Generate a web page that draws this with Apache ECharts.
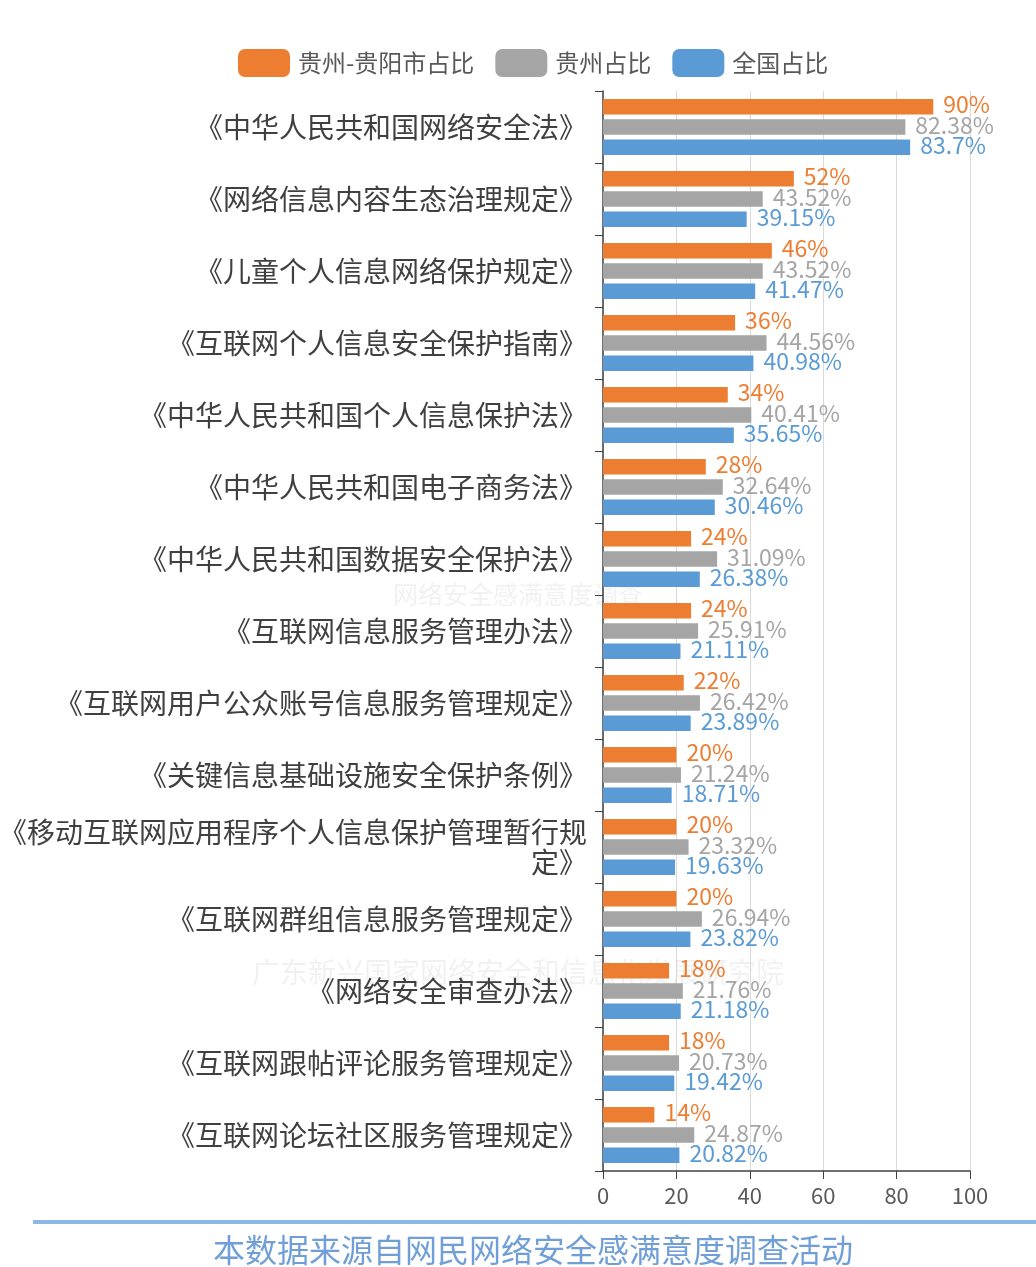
<!DOCTYPE html>
<html><head><meta charset="utf-8">
<script src="https://cdn.jsdelivr.net/npm/echarts@6/dist/echarts.min.js"></script>
<style>html,body{margin:0;padding:0;background:#fff}#c{width:1036px;height:1267px}</style>
</head><body><div id="c"></div>
<script>
const categories = ['《中华人民共和国网络安全法》','《网络信息内容生态治理规定》','《儿童个人信息网络保护规定》','《互联网个人信息安全保护指南》','《中华人民共和国个人信息保护法》','《中华人民共和国电子商务法》','《中华人民共和国数据安全保护法》','《互联网信息服务管理办法》','《互联网用户公众账号信息服务管理规定》','《关键信息基础设施安全保护条例》','《移动互联网应用程序个人信息保护管理暂行规定》','《互联网群组信息服务管理规定》','《网络安全审查办法》','《互联网跟帖评论服务管理规定》','《互联网论坛社区服务管理规定》'];
const guiyang = [90,52,46,36,34,28,24,24,22,20,20,20,18,18,14];
const guizhou = [82.38,43.52,43.52,44.56,40.41,32.64,31.09,25.91,26.42,21.24,23.32,26.94,21.76,20.73,24.87];
const national = [83.7,39.15,41.47,40.98,35.65,30.46,26.38,21.11,23.89,18.71,19.63,23.82,21.18,19.42,20.82];
const seriesNames = ['贵州-贵阳市占比','贵州占比','全国占比'];
const colors = ['#ED7D31','#A5A5A5','#5B9BD5'];
const font = '"Noto Sans CJK SC", "Noto Sans", sans-serif';

const chart = echarts.init(document.getElementById('c'));
const mk = (name, data, color) => ({
  name, type:'bar', data,
  barCategoryGap:'22%', barGap:'30%',
  itemStyle:{color},
  label:{show:true, position:'right', distance:10, offset:[0,-2], color, fontSize:23, fontFamily:font, formatter:'{c}%'}
});
chart.setOption({
  animation:false,
  color: colors,
  textStyle:{fontFamily:font},
  legend:{
    top:44, left:233, itemWidth:52, itemHeight:28, itemGap:21,
    textStyle:{fontSize:24, color:'#595959', fontFamily:font, padding:[0,0,0,3]},
    data: seriesNames.map((n,i)=>({name:n, itemStyle:{color:colors[i], borderRadius:8}}))
  },
  grid:{left:603, right:66, top:91, bottom:96, containLabel:false, outerBoundsMode:'none'},
  xAxis:{
    type:'value', min:0, max:100, interval:20,
    axisLine:{show:true, lineStyle:{color:'#404040', width:1.5}},
    axisTick:{show:true, length:8, lineStyle:{color:'#404040'}},
    axisLabel:{fontSize:22, color:'#595959', margin:14, fontFamily:font},
    splitLine:{show:true, lineStyle:{color:'#d9d9d9', width:1}}
  },
  yAxis:{
    type:'category', data:categories, inverse:true,
    axisLine:{show:true, lineStyle:{color:'#404040', width:1.5}},
    axisTick:{show:true, length:8, lineStyle:{color:'#404040'}},
    axisLabel:{fontSize:28, color:'#404040', margin:16, width:592, overflow:'break', lineHeight:30, fontFamily:font}
  },
  graphic:[
    {type:'text', left:'center', top:582, style:{text:'网络安全感满意度调查', fontSize:25, fill:'rgba(180,180,180,0.18)', fontFamily:font}},
    {type:'text', left:'center', top:958, style:{text:'广东新兴国家网络安全和信息化发展研究院', fontSize:28, fill:'rgba(180,180,180,0.18)', fontFamily:font}},
    {type:'rect', shape:{x:33, y:1220, width:1003, height:4}, style:{fill:'#8BB8E8'}},
    {type:'text', left:213, top:1234, style:{text:'本数据来源自网民网络安全感满意度调查活动', fontSize:32, fill:'#6F9FD6', fontFamily:font}}
  ],
  series:[mk(seriesNames[0], guiyang, colors[0]), mk(seriesNames[1], guizhou, colors[1]), mk(seriesNames[2], national, colors[2])]
});
</script></body></html>
